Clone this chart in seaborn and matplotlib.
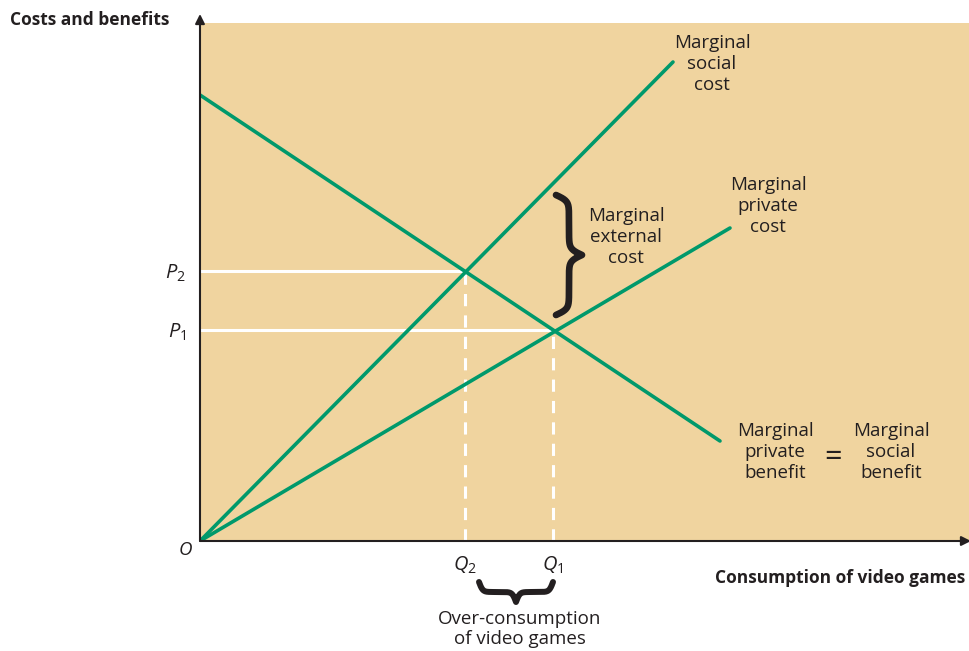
import matplotlib
matplotlib.use("Agg")
import matplotlib.pyplot as plt
import seaborn as sns
import pandas as pd
import numpy as np

# Datos del diagrama (unidades arbitrarias)
curve_names = ["Marginal social cost", "Marginal private cost", "Marginal private benefit"]
curve_x = [[0.0, 4.73], [0.0, 5.30], [0.0, 5.20]]
curve_y = [[0.0, 4.79], [0.0, 3.13], [4.46, 1.00]]

q_values = [2.65, 3.53]
p_values = [2.70, 2.11]
q_labels = ["$Q_2$", "$Q_1$"]
p_labels = ["$P_2$", "$P_1$"]

GREEN = "#00996B"
BEIGE = "#F0D49F"
TEXT = "#231F20"


def brace_curve(a, b, depth, n=401, beta=None):
    """Devuelve una llave { } a lo largo de [a, b] con profundidad depth."""
    t = np.linspace(a, b, n)
    if beta is None:
        beta = 40.0 / (b - a)
    half = t[: n // 2 + 1]
    h = (1 / (1 + np.exp(-beta * (half - half[0]))) +
         1 / (1 + np.exp(-beta * (half - half[-1]))))
    shape = np.concatenate((h, h[-2::-1]))
    shape = (shape - shape.min()) / (shape.max() - shape.min())
    return t, shape * depth


def main():
    sns.set_style("white")
    plt.rcParams["font.family"] = ["Open Sans", "DejaVu Sans"]
    plt.rcParams["mathtext.fontset"] = "custom"
    plt.rcParams["mathtext.it"] = "Open Sans:italic"
    plt.rcParams["mathtext.rm"] = "Open Sans"

    fig = plt.figure(figsize=(9.69, 6.51), dpi=100)
    ax = fig.add_axes([200 / 969, 1 - 541 / 651, 769 / 969, 518 / 651])
    ax.set_facecolor(BEIGE)
    ax.set_xlim(0, 7.69)
    ax.set_ylim(0, 5.18)

    rows = []
    for name, xs, ys in zip(curve_names, curve_x, curve_y):
        for x, y in zip(xs, ys):
            rows.append({"curve": name, "x": x, "y": y})
    df = pd.DataFrame(rows)
    sns.lineplot(data=df, x="x", y="y", hue="curve", sort=False,
                 palette=[GREEN] * 3, lw=2.6, legend=False, ax=ax, zorder=3)

    # Líneas blancas de referencia
    for q, p in zip(q_values, p_values):
        ax.plot([0, q], [p, p], color="white", lw=2.2, zorder=2)
        ax.plot([q, q], [0, p], color="white", lw=2.2, ls=(0, (4, 3)), zorder=2)

    for s in ax.spines.values():
        s.set_visible(False)
    ax.set_xlabel("")
    ax.set_ylabel("")

    ax.set_xticks(q_values)
    ax.set_xticklabels(q_labels, fontsize=14.5, color=TEXT)
    ax.set_yticks(p_values)
    ax.set_yticklabels(p_labels, fontsize=14.5, color=TEXT)
    ax.tick_params(axis="both", direction="out", length=8, width=1.2,
                   color=TEXT, pad=2)

    # Ejes con flecha
    ax.annotate("", xy=(7.71, 0), xytext=(0, 0), annotation_clip=False,
                arrowprops=dict(arrowstyle="-|>", color=TEXT, lw=1.5,
                                mutation_scale=14, shrinkA=0, shrinkB=0))
    ax.annotate("", xy=(0, 5.27), xytext=(0, 0), annotation_clip=False,
                arrowprops=dict(arrowstyle="-|>", color=TEXT, lw=1.5,
                                mutation_scale=14, shrinkA=0, shrinkB=0))

    ax.text(-0.15, -0.09, "O", fontsize=13.5, style="italic", color=TEXT,
            ha="center", va="center")

    fig.text(10 / 969, 1 - 20 / 651, "Costs and benefits", fontsize=12.5,
             fontweight="bold", color=TEXT, ha="left", va="center")
    fig.text(965 / 969, 1 - 578 / 651, "Consumption of video games", fontsize=12.5,
             fontweight="bold", color=TEXT, ha="right", va="center")

    lab = dict(fontsize=13.5, color=TEXT, ha="center", va="center", linespacing=1.18)
    ax.text(5.12, 4.77, "Marginal\nsocial\ncost", **lab)
    ax.text(5.68, 3.35, "Marginal\nprivate\ncost", **lab)
    ax.text(4.26, 3.04, "Marginal\nexternal\ncost", **lab)
    ax.text(5.75, 0.89, "Marginal\nprivate\nbenefit", **lab)
    ax.text(6.33, 0.83, "=", fontsize=22, color=TEXT, ha="center", va="center")
    ax.text(6.91, 0.89, "Marginal\nsocial\nbenefit", **lab)
    ax.text(3.20, -0.88, "Over-consumption\nof video games", clip_on=False, **lab)

    # Llave vertical (costo externo)
    yb, xb = brace_curve(2.26, 3.46, 0.26)
    ax.plot(3.56 + xb, yb, color=TEXT, lw=4.8, solid_capstyle="round", zorder=4)

    # Llave horizontal (sobreconsumo)
    xh, yh = brace_curve(2.79, 3.53, 0.20)
    ax.plot(xh, -0.41 - yh, color=TEXT, lw=4.3, solid_capstyle="round",
            clip_on=False, zorder=4)

    fig.savefig("out.png", dpi=100)


main()
